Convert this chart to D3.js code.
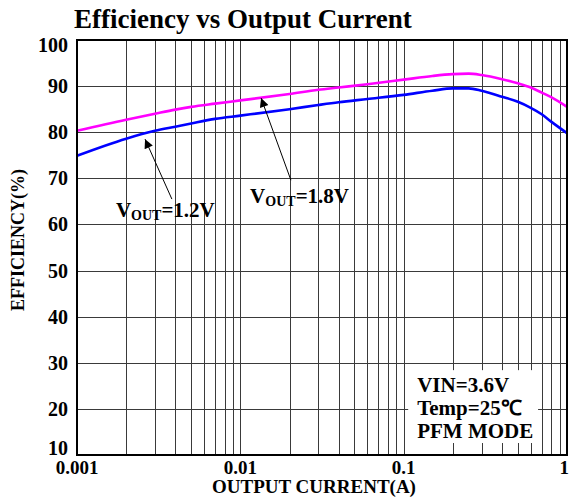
<!DOCTYPE html>
<html lang="en">
<head>
<meta charset="UTF-8">
<title>Efficiency vs Output Current</title>
<script src="https://cdn.jsdelivr.net/npm/d3@7/dist/d3.min.js"></script>
<style>
  body { margin: 0; background: #fff; }
  text { font-family: "Liberation Serif", "Times New Roman", serif; font-weight: bold; fill: #000; }
</style>
</head>
<body>
<script>
// data
var current = [0.001, 0.002, 0.003, 0.004, 0.005, 0.007, 0.01, 0.02, 0.03, 0.04, 0.06, 0.1, 0.15, 0.2, 0.25, 0.3, 0.4, 0.5, 0.6, 0.7, 0.8, 1.0];
var eff18 = [80.3, 82.7, 84.0, 84.9, 85.5, 86.2, 86.9, 88.3, 89.2, 89.7, 90.4, 91.4, 92.2, 92.6, 92.7, 92.4, 91.5, 90.6, 89.7, 88.6, 87.6, 85.5];
var eff12 = [74.9, 78.6, 80.3, 81.2, 81.9, 82.9, 83.6, 85.0, 85.9, 86.5, 87.2, 88.1, 89.0, 89.5, 89.5, 89.0, 87.7, 86.6, 85.3, 83.9, 82.3, 79.8];
var xTicks = [0.001, 0.01, 0.1, 1];
var xTickLabels = ["0.001", "0.01", "0.1", "1"];
var yTicks = [10, 20, 30, 40, 50, 60, 70, 80, 90, 100];
var notes = ["VIN=3.6V", "Temp=25\u2103", "PFM MODE"];

var width = 569, height = 501;
var plot = {left: 77, top: 40, right: 567, bottom: 455};

var svg = d3.select("body").append("svg").attr("width", width).attr("height", height);

var x = d3.scaleLog().domain([0.001, 1]).range([plot.left, plot.right]);
var y = d3.scaleLinear().domain([10, 100]).range([plot.bottom, plot.top]);

// grid: every 1..9 in each decade
var minor = [];
[0.001, 0.01, 0.1].forEach(function (d) {
	for (var k = 2; k <= 9; k++) minor.push(d * k);
});
minor.push(0.01, 0.1);

var grid = svg.append("g").attr("shape-rendering", "crispEdges");
grid.selectAll("line.v").data(minor).enter().append("line")
	.attr("x1", function (d) { return Math.round(x(d)) + 0.5; })
	.attr("x2", function (d) { return Math.round(x(d)) + 0.5; })
	.attr("y1", plot.top).attr("y2", plot.bottom)
	.attr("stroke", "#3a3a3a").attr("stroke-width", 1);
grid.selectAll("line.h").data(yTicks.slice(1, -1)).enter().append("line")
	.attr("y1", function (d) { return Math.round(y(d)) + 0.5; })
	.attr("y2", function (d) { return Math.round(y(d)) + 0.5; })
	.attr("x1", plot.left).attr("x2", plot.right)
	.attr("stroke", "#3a3a3a").attr("stroke-width", 1);

// note box covers grid
var boxX0 = x(0.1066), boxX1 = x(0.665), boxY0 = y(28.4), boxY1 = y(12.6);
svg.append("rect")
	.attr("x", boxX0).attr("y", boxY0)
	.attr("width", boxX1 - boxX0).attr("height", boxY1 - boxY0)
	.attr("fill", "#fff");
svg.selectAll("text.note").data(notes).enter().append("text")
	.attr("x", x(0.121))
	.attr("y", function (d, i) { return y(23.7 - i * 5); })
	.attr("font-size", 21)
	.text(function (d) { return d; });

// curves
var line = d3.line()
	.x(function (d) { return x(d[0]); })
	.y(function (d) { return y(d[1]); })
	.curve(d3.curveMonotoneX);

svg.append("path").datum(d3.zip(current, eff18))
	.attr("d", line).attr("fill", "none")
	.attr("stroke", "#ff00ff").attr("stroke-width", 2.6);
svg.append("path").datum(d3.zip(current, eff12))
	.attr("d", line).attr("fill", "none")
	.attr("stroke", "#0000ff").attr("stroke-width", 2.6);

// frame
svg.append("rect")
	.attr("x", plot.left).attr("y", plot.top)
	.attr("width", plot.right - plot.left).attr("height", plot.bottom - plot.top)
	.attr("fill", "none").attr("stroke", "#000").attr("stroke-width", 2);

// arrows
svg.append("defs").append("marker")
	.attr("id", "head").attr("viewBox", "0 0 10 10")
	.attr("refX", 10).attr("refY", 5)
	.attr("markerWidth", 11).attr("markerHeight", 9)
	.attr("markerUnits", "userSpaceOnUse")
	.attr("orient", "auto")
	.append("path").attr("d", "M0,0 L10,5 L0,10 z").attr("fill", "#000");

var arrows = [
	{tail: [0.00381, 65.5], tip: [0.00261, 78.5]},
	{tail: [0.0204, 69.6], tip: [0.0134, 87.4]}
];
svg.selectAll("line.arrow").data(arrows).enter().append("line")
	.attr("x1", function (d) { return x(d.tail[0]); })
	.attr("y1", function (d) { return y(d.tail[1]); })
	.attr("x2", function (d) { return x(d.tip[0]); })
	.attr("y2", function (d) { return y(d.tip[1]); })
	.attr("stroke", "#000").attr("stroke-width", 1)
	.attr("marker-end", "url(#head)");

var labels = [
	{pos: [0.00173, 61.6], v: "=1.2V"},
	{pos: [0.01148, 64.6], v: "=1.8V"}
];
labels.forEach(function (l) {
	var t = svg.append("text")
		.attr("x", x(l.pos[0])).attr("y", y(l.pos[1]))
		.attr("font-size", 21);
	t.append("tspan").text("V");
	t.append("tspan").attr("font-size", 14).attr("dy", 3).text("OUT");
	t.append("tspan").attr("dy", -3).text(l.v);
});

// y axis labels
svg.selectAll("text.ytick").data(yTicks).enter().append("text")
	.attr("x", 68)
	.attr("y", function (d) { return y(d); })
	.attr("dy", function (d) { return d === 100 ? "0.6em" : d === 10 ? "0.02em" : "0.35em"; })
	.attr("text-anchor", "end")
	.attr("font-size", 20)
	.text(function (d) { return d; });

// x axis labels
svg.selectAll("text.xtick").data(xTicks).enter().append("text")
	.attr("x", function (d, i) { return i === xTicks.length - 1 ? width : x(d); })
	.attr("y", 474)
	.attr("text-anchor", function (d, i) { return i === xTicks.length - 1 ? "end" : "middle"; })
	.attr("font-size", 19)
	.text(function (d, i) { return xTickLabels[i]; });

svg.append("text")
	.attr("x", 314).attr("y", 493)
	.attr("text-anchor", "middle")
	.attr("font-size", 19)
	.text("OUTPUT CURRENT(A)");

svg.append("text")
	.attr("transform", "translate(24,240) rotate(-90)")
	.attr("text-anchor", "middle")
	.attr("font-size", 18)
	.text("EFFICIENCY(%)");

// title
svg.append("text")
	.attr("x", 74).attr("y", 28)
	.attr("font-size", 27)
	.text("Efficiency vs Output Current");
</script>
</body>
</html>
